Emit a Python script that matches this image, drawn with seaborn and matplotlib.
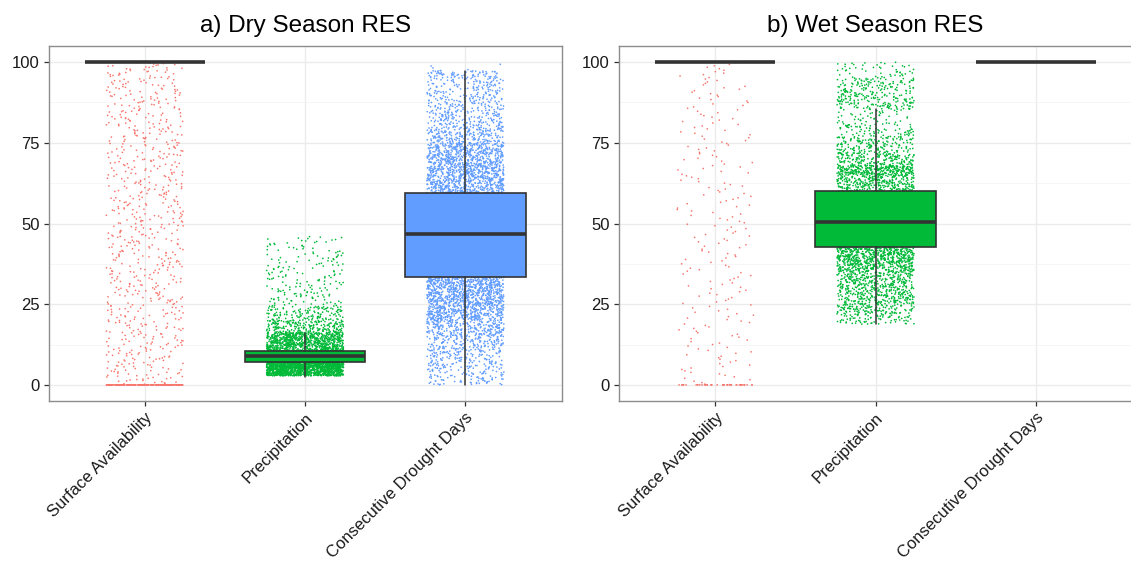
import numpy as np
import pandas as pd
import matplotlib
matplotlib.use("Agg")
import matplotlib.pyplot as plt
import matplotlib.transforms as mtransforms
from matplotlib.ticker import MultipleLocator
import seaborn as sns

# ---------------------------------------------------------------- data
categories = ["Surface Availability", "Precipitation", "Consecutive Drought Days"]
palette = ["#F8766D", "#00BA38", "#619CFF"]
titles = ["a) Dry Season RES", "b) Wet Season RES"]
y_ticks = [0, 25, 50, 75, 100]

# Box summaries per category: lower whisker, Q1, median, Q3, upper whisker
dry_whislo = [100.0, 2.4, 0.0]
dry_q1 = [100.0, 7.0, 33.4]
dry_med = [100.0, 9.0, 46.6]
dry_q3 = [100.0, 10.5, 59.6]
dry_whishi = [100.0, 16.2, 97.4]

wet_whislo = [100.0, 18.8, 100.0]
wet_q1 = [100.0, 42.7, 100.0]
wet_med = [100.0, 50.6, 100.0]
wet_q3 = [100.0, 60.0, 100.0]
wet_whishi = [100.0, 85.4, 100.0]

# Observation counts: value-range edges with counts per range,
# plus counts sitting exactly at 0 and at 100
dry_sa_edges = [0, 25, 50, 75, 100]
dry_sa_counts = [190, 190, 190, 190]
dry_sa_at0, dry_sa_at100 = 220, 3500

dry_pr_edges = [2.8, 5, 7, 9, 10.5, 16.3, 20, 24.3, 30, 35, 40, 46]
dry_pr_counts = [650, 750, 1400, 1400, 850, 200, 130, 65, 45, 40, 40]
dry_pr_at0, dry_pr_at100 = 0, 0

dry_cd_edges = [0, 5, 10, 15, 20, 25, 30, 33.4, 46.6, 59.6, 65, 70, 75, 80, 85, 90, 95, 97.4, 99.6]
dry_cd_counts = [100, 130, 180, 260, 400, 460, 330, 1900, 1900, 430, 400, 350, 210, 150, 125, 110, 75, 4]
dry_cd_at0, dry_cd_at100 = 0, 0

wet_sa_edges = [0, 25, 50, 75, 100]
wet_sa_counts = [55, 55, 55, 55]
wet_sa_at0, wet_sa_at100 = 45, 1000

wet_pr_edges = [18.8, 22, 25, 30, 35, 38, 42.7, 50.6, 60, 65, 68, 72, 77, 81, 85.4, 90, 95, 100]
wet_pr_counts = [80, 120, 240, 260, 230, 460, 1400, 1400, 310, 300, 180, 160, 75, 45, 140, 125, 50]
wet_pr_at0, wet_pr_at100 = 0, 0

wet_cd_edges = [100, 100]
wet_cd_counts = [0]
wet_cd_at0, wet_cd_at100 = 0, 2500


def spread(edges, counts, at0, at100):
    """Expand range counts into observation values within each range."""
    vals = [np.zeros(at0), np.full(at100, 100.0)]
    for lo, hi, n in zip(edges[:-1], edges[1:], counts):
        vals.append(lo + (np.arange(n) + 0.5) / max(n, 1) * (hi - lo))
    return np.concatenate(vals)


def season_frame(series):
    parts = []
    for cat, (e, c, a0, a100) in zip(categories, series):
        v = spread(e, c, a0, a100)
        parts.append(pd.DataFrame({"category": cat, "value": v}))
    return pd.concat(parts, ignore_index=True)


dry_df = season_frame([
    (dry_sa_edges, dry_sa_counts, dry_sa_at0, dry_sa_at100),
    (dry_pr_edges, dry_pr_counts, dry_pr_at0, dry_pr_at100),
    (dry_cd_edges, dry_cd_counts, dry_cd_at0, dry_cd_at100),
])
wet_df = season_frame([
    (wet_sa_edges, wet_sa_counts, wet_sa_at0, wet_sa_at100),
    (wet_pr_edges, wet_pr_counts, wet_pr_at0, wet_pr_at100),
    (wet_cd_edges, wet_cd_counts, wet_cd_at0, wet_cd_at100),
])

dry_box = (dry_whislo, dry_q1, dry_med, dry_q3, dry_whishi)
wet_box = (wet_whislo, wet_q1, wet_med, wet_q3, wet_whishi)

# ---------------------------------------------------------------- style
sns.set_theme(style="white")
plt.rcParams["font.family"] = ["Liberation Sans", "DejaVu Sans"]

W, H = 1131, 563
fig = plt.figure(figsize=(W / 100, H / 100), dpi=100)
ax_dry = fig.add_axes([48.6 / W, (H - 401) / H, 513 / W, 355 / H])
ax_wet = fig.add_axes([619.0 / W, (H - 401) / H, 513 / W, 355 / H])

np.random.seed(7)
label_shift = mtransforms.ScaledTranslation(0.10, 0.0, fig.dpi_scale_trans)

for ax, df, box, title in [(ax_dry, dry_df, dry_box, titles[0]),
                           (ax_wet, wet_df, wet_box, titles[1])]:
    # jittered observations
    sns.stripplot(data=df, x="category", y="value", hue="category",
                  order=categories, hue_order=categories, palette=palette,
                  jitter=0.24, size=1.2, linewidth=0, legend=False,
                  ax=ax, zorder=1)

    # boxes from the summary statistics
    lo, q1, med, q3, hi = box
    stats = [dict(whislo=lo[i], q1=q1[i], med=med[i], q3=q3[i],
                  whishi=hi[i], label=categories[i]) for i in range(3)]
    bp = ax.bxp(stats, positions=[0, 1, 2], widths=0.75, showfliers=False,
                showcaps=False, patch_artist=True, zorder=3,
                boxprops=dict(edgecolor="#333333", linewidth=1.2),
                medianprops=dict(color="#333333", linewidth=2.6,
                                 solid_capstyle="butt"),
                whiskerprops=dict(color="#333333", linewidth=1.1))
    for patch, col in zip(bp["boxes"], palette):
        patch.set_facecolor(col)

    ax.set_xlim(-0.6, 2.6)
    ax.set_ylim(-5, 105)
    ax.set_yticks(y_ticks)
    ax.set_yticklabels([str(t) for t in y_ticks])
    ax.yaxis.set_minor_locator(MultipleLocator(12.5))
    ax.set_xticks([0, 1, 2])
    ax.set_xticklabels(categories, rotation=45, ha="right", va="top",
                       rotation_mode="anchor")
    for lbl in ax.get_xticklabels():
        lbl.set_transform(lbl.get_transform() + label_shift)

    ax.set_axisbelow(True)
    ax.grid(which="major", color="#EBEBEB", linewidth=1.0)
    ax.grid(which="minor", axis="y", color="#F5F5F5", linewidth=0.6)
    ax.grid(which="minor", axis="x", visible=False)

    for sp in ax.spines.values():
        sp.set_color("#8C8C8C")
        sp.set_linewidth(1.0)
    ax.tick_params(which="major", length=3.5, width=0.9, color="#333333",
                   labelsize=12, labelcolor="#1A1A1A", pad=3,
                   bottom=True, left=True)
    ax.tick_params(which="minor", length=0)
    ax.set_xlabel("")
    ax.set_ylabel("")
    ax.set_title(title, fontsize=17.5, pad=10, color="black")

fig.savefig("out.png", dpi=100, facecolor="white")
